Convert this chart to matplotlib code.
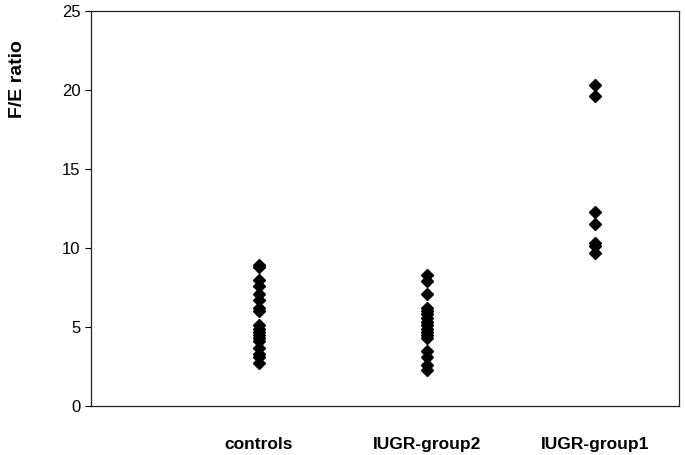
import matplotlib
matplotlib.use("Agg")
from matplotlib import pyplot as plt

plt.rcParams['font.family'] = ['Liberation Sans', 'DejaVu Sans']

groups = ["controls", "IUGR-group2", "IUGR-group1"]
controls = [8.9, 8.8, 8.0, 7.6, 7.1, 6.7, 6.2, 6.0, 5.1, 4.9, 4.7, 4.5, 4.3, 4.1, 3.7, 3.3, 3.1, 2.7]
iugr2 = [8.3, 7.9, 7.1, 6.2, 6.0, 5.8, 5.6, 5.3, 5.1, 4.9, 4.7, 4.5, 4.3, 3.5, 3.1, 2.6, 2.3]
iugr1 = [20.3, 19.6, 12.3, 11.5, 10.3, 10.1, 9.7]
yticks = [0, 5, 10, 15, 20, 25]

fig = plt.figure(figsize=(6.85, 4.55), dpi=100)
ax = fig.add_axes([0.1328, 0.1077, 0.8584, 0.8681])

for i, vals in enumerate([controls, iugr2, iugr1]):
    ax.plot([i + 1] * len(vals), vals, 'D', color='black', markersize=6.5, linestyle='none')

ax.set_xlim(0, 3.5)
ax.set_ylim(0, 25)
ax.set_yticks(yticks)
ax.set_xticks([1, 2, 3])
ax.set_xticklabels(groups, fontsize=12.5, fontweight='bold')
ax.tick_params(axis='x', length=0, pad=22)
ax.tick_params(axis='y', direction='out', length=4, labelsize=12, width=0.8)
for s in ax.spines.values():
    s.set_linewidth(0.9)
    s.set_color('#222222')

# y label sits near the top, not centred on the axis
fig.text(18 / 685, 1 - 79 / 455, "F/E ratio", rotation=90, ha='center', va='center',
         fontsize=14, fontweight='bold')

plt.savefig("out.png", dpi=100)
